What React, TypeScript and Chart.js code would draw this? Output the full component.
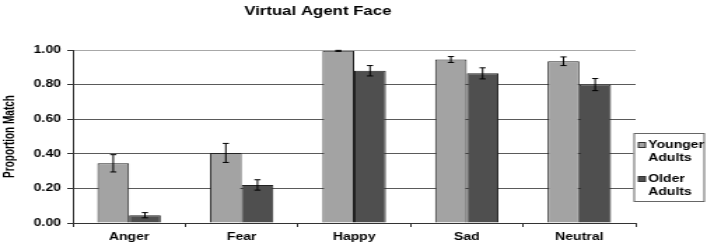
import React, { useEffect, useRef } from 'react';
import { Chart, registerables } from 'chart.js';

Chart.register(...registerables);

const categories = ['Anger', 'Fear', 'Happy', 'Sad', 'Neutral'];
const youngerValues = [0.345, 0.405, 0.995, 0.945, 0.935];
const youngerErrors = [0.05, 0.055, 0.003, 0.017, 0.025];
const olderValues = [0.045, 0.22, 0.88, 0.865, 0.8];
const olderErrors = [0.015, 0.03, 0.03, 0.032, 0.035];
const youngerLabel = ['Younger', 'Adults'];
const olderLabel = ['Older', 'Adults'];
const chartTitle = 'Virtual Agent Face';
const yAxisTitle = 'Proportion Match';

const FONT = '"Liberation Sans", Arial, Helvetica, sans-serif';
const INTERNAL_W = 510;
const H = 249;

const errorBarPlugin = {
  id: 'errorBars',
  afterDatasetsDraw(chart: any) {
    const ctx = chart.ctx;
    const yScale = chart.scales.y;
    chart.data.datasets.forEach((ds: any, i: number) => {
      const meta = chart.getDatasetMeta(i);
      meta.data.forEach((bar: any, j: number) => {
        const v = ds.data[j];
        const e = ds.errors[j];
        const yHi = yScale.getPixelForValue(v + e);
        const yLo = yScale.getPixelForValue(v - e);
        const x = bar.x;
        const cap = 2.2;
        ctx.save();
        ctx.strokeStyle = '#000';
        ctx.lineWidth = 1;
        ctx.beginPath();
        ctx.moveTo(x, yHi);
        ctx.lineTo(x, yLo);
        ctx.moveTo(x - cap, yHi);
        ctx.lineTo(x + cap, yHi);
        ctx.moveTo(x - cap, yLo);
        ctx.lineTo(x + cap, yLo);
        ctx.stroke();
        ctx.restore();
      });
    });
  },
};

const boxLegendPlugin = {
  id: 'boxLegend',
  afterDraw(chart: any) {
    const ctx = chart.ctx;
    const area = chart.chartArea;
    const bx = area.right - 1.5;
    const by = 133;
    const bw = 51;
    const bh = 69;
    ctx.save();
    ctx.fillStyle = '#fff';
    ctx.fillRect(bx, by, bw, bh);
    ctx.strokeStyle = '#666';
    ctx.lineWidth = 1;
    ctx.strokeRect(bx + 0.5, by + 0.5, bw - 1, bh - 1);
    ctx.font = `bold 10px ${FONT}`;
    ctx.textBaseline = 'middle';
    ctx.textAlign = 'left';
    const itemTops = [by + 12, by + 46];
    chart.data.datasets.forEach((ds: any, i: number) => {
      const cy = itemTops[i];
      ctx.fillStyle = ds.backgroundColor;
      ctx.fillRect(bx + 3.5, cy - 2.5, 5, 5);
      ctx.strokeStyle = '#333';
      ctx.strokeRect(bx + 3.5, cy - 2.5, 5, 5);
      ctx.fillStyle = '#000';
      (ds.legendLines as string[]).forEach((line, k) => {
        ctx.fillText(line, bx + 10.5, cy + k * 13);
      });
    });
    ctx.restore();
  },
};

export default function App() {
  const canvasRef = useRef<HTMLCanvasElement | null>(null);

  useEffect(() => {
    if (!canvasRef.current) return;
    const chart = new Chart(canvasRef.current, {
      type: 'bar',
      data: {
        labels: categories,
        datasets: [
          {
            label: youngerLabel.join(' '),
            data: youngerValues,
            errors: youngerErrors,
            legendLines: youngerLabel,
            backgroundColor: '#a3a3a3',
            borderColor: '#222',
            borderWidth: 1,
            categoryPercentage: 0.563,
            barPercentage: 1,
          } as any,
          {
            label: olderLabel.join(' '),
            data: olderValues,
            errors: olderErrors,
            legendLines: olderLabel,
            backgroundColor: '#4f4f4f',
            borderColor: '#222',
            borderWidth: 1,
            categoryPercentage: 0.563,
            barPercentage: 1,
          } as any,
        ],
      },
      options: {
        responsive: false,
        devicePixelRatio: 1,
        animation: false,
        layout: { padding: { left: 0, right: 56, top: 0, bottom: 0 } },
        plugins: {
          legend: { display: false },
          tooltip: { enabled: false },
          title: {
            display: true,
            text: chartTitle,
            color: '#000',
            font: { family: FONT, size: 12, weight: 'bold', lineHeight: 1.2 },
            padding: { top: 4, bottom: 31.6 },
          },
        },
        scales: {
          x: {
            afterFit(scale: any) {
              scale.height = 26;
            },
            grid: {
              display: true,
              drawOnChartArea: false,
              drawTicks: true,
              tickLength: 4,
              color: '#333',
              offset: true,
            },
            border: { display: true, color: '#333', width: 1 },
            ticks: {
              color: '#000',
              padding: 4,
              font: { family: FONT, size: 10, weight: 'bold' },
            },
          },
          y: {
            min: 0,
            max: 1,
            afterFit(scale: any) {
              scale.width = 52;
            },
            ticks: {
              stepSize: 0.2,
              color: '#000',
              padding: 4.5,
              font: { family: FONT, size: 10, weight: 'bold' },
              callback: (v: any) => Number(v).toFixed(2),
            },
            grid: {
              color: (c: any) => (c.tick && c.tick.value === 1 ? '#a8a8a8' : '#5a5a5a'),
              tickColor: '#333',
              tickLength: 4,
              drawTicks: true,
            },
            border: { display: true, color: '#333', width: 1 },
            title: {
              display: true,
              text: yAxisTitle,
              color: '#000',
              font: { family: FONT, size: 10, weight: 'bold', lineHeight: 1.2 },
              padding: { top: 1, bottom: 0 },
            },
          },
        },
      } as any,
      plugins: [errorBarPlugin, boxLegendPlugin],
    });
    return () => chart.destroy();
  }, []);

  return (
    <div style={{ position: 'absolute', left: 0, top: 0, width: 714, height: H, background: '#fff' }}>
      <canvas
        ref={canvasRef}
        width={INTERNAL_W}
        height={H}
        style={{ width: '714px', height: `${H}px`, display: 'block' }}
      />
    </div>
  );
}
